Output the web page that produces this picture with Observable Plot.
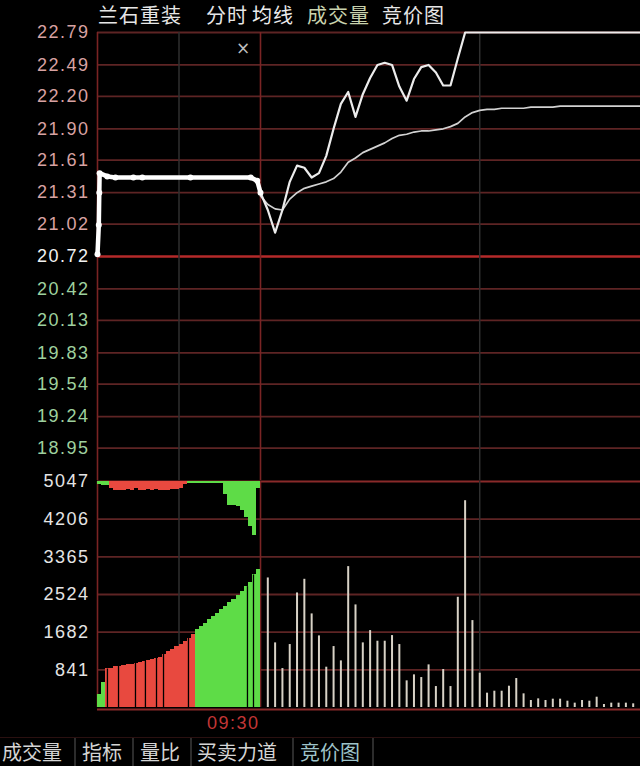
<!DOCTYPE html>
<html><head><meta charset="utf-8">
<script src="https://cdn.jsdelivr.net/npm/d3@7"></script>
<script src="https://cdn.jsdelivr.net/npm/@observablehq/plot@0.6"></script>
<style>
html,body{margin:0;padding:0;background:#000;}
#wrap{position:relative;width:640px;height:766px;background:#000;overflow:hidden;}
#wrap > div.svgbox{position:absolute;left:0;}
#wrap svg{overflow:visible;}
#wrap svg text{letter-spacing:1.5px;}
.ttl{position:absolute;top:3px;font-size:20px;line-height:24px;letter-spacing:1px;font-family:"Noto Sans CJK SC",sans-serif;white-space:nowrap;}
#tabs{position:absolute;left:0;top:737px;width:640px;height:29px;border-top:1px solid #2a1010;}
.tab{position:absolute;top:1px;font-size:20px;line-height:26px;font-family:"Noto Sans CJK SC",sans-serif;color:#d4d4d4;white-space:nowrap;}
.sep{position:absolute;top:0;width:0;height:29px;border-left:2px solid #2c2c2c;}
#xmark{position:absolute;left:236px;top:38px;color:#bdbdbd;font:17px "DejaVu Sans",sans-serif;}
</style>
</head><body>
<div id="wrap">
  <div id="priceBox" class="svgbox" style="top:0"></div>
  <div id="volBox" class="svgbox" style="top:470px"></div>
  <div id="titles"></div>
  <div id="xmark">×</div>
  <div id="tabs"></div>
</div>
<script>
// ---------- DATA ----------
const stockName = "兰石重装";
const headerLabels = ["分时", "均线", "成交量", "竞价图"];
const tabLabels = ["成交量", "指标", "量比", "买卖力道", "竞价图"];

const prevClose = 20.72;
const priceMin = 18.65, priceMax = 22.79;
const priceTicks = [22.79, 22.49, 22.20, 21.90, 21.61, 21.31, 21.02, 20.72, 20.42, 20.13, 19.83, 19.54, 19.24, 18.95];
const volTicks = [5047, 4206, 3365, 2524, 1682, 841];
const volMax = 5047;

// x positions: auction minutes since 09:15 (0..10), then 10 + minutes since 09:30
const sessionLines = [0, 10];      // 09:15 and 09:25/09:30 dividers
const dimLines = [5, 40];          // 09:20 and 10:00
const timeTicks = [10];
const timeTickLabels = ["09:30"];

// auction (call auction) price line
const auctionT = [0, 0.08, 0.11, 0.13, 0.6, 1.1, 2.2, 2.75, 5.7, 9.4, 9.8, 10];
const auctionP = [20.74, 21.01, 21.31, 21.49, 21.46, 21.45, 21.45, 21.45, 21.45, 21.45, 21.42, 21.31];

// auction volume bins (0.25 min each from 09:15)
const binT = [0,0.25,0.5,0.75,1,1.25,1.5,1.75,2,2.25,2.5,2.75,3,3.25,3.5,3.75,4,4.25,4.5,4.75,5,5.25,5.5,5.75,6,6.25,6.5,6.75,7,7.25,7.5,7.75,8,8.25,8.5,8.75,9,9.25,9.5,9.75];
const matchedVol = [300,560,860,880,905,920,935,950,970,990,1010,1035,1060,1080,1100,1125,1190,1240,1300,1360,1410,1480,1550,1620,1740,1800,1880,1960,2030,2100,2180,2250,2350,2420,2510,2600,2700,2800,2960,3080];
const matchedSide = ["g","g","r","r","r","r","r","r","r","r","r","r","r","r","r","r","r","r","r","r","r","r","r","r","g","g","g","g","g","g","g","g","g","g","g","g","g","g","g","g"];
const unmatchedVol = [60,80,90,160,200,210,190,170,200,150,190,210,170,200,180,200,210,190,180,170,150,60,40,40,40,40,40,40,40,40,40,300,535,535,560,640,800,1000,1200,160];
const unmatchedSide = ["g","g","g","r","r","r","r","r","r","r","r","r","r","r","r","r","r","r","r","r","r","r","g","g","g","g","g","g","g","g","g","g","g","g","g","g","g","g","g","g"];
const auctionGaps = [0.61, 1.29, 2.33, 2.94, 3.62, 4.05, 5.58, 9.2, 9.57];

// continuous trading, one value per minute from 09:30 (index 0 = 09:30)
const minutePrice = [21.31,21.15,20.94,21.15,21.41,21.56,21.54,21.45,21.49,21.65,21.90,22.13,22.24,22.01,22.22,22.37,22.49,22.51,22.49,22.29,22.16,22.36,22.47,22.49,22.42,22.30,22.30,22.55,22.79,22.79,22.79,22.79,22.79,22.79,22.79,22.79,22.79,22.79,22.79,22.79,22.79,22.79,22.79,22.79,22.79,22.79,22.79,22.79,22.79,22.79,22.79,22.79,22.79];
const minuteAvg = [21.28,21.20,21.16,21.15,21.25,21.31,21.35,21.37,21.39,21.41,21.44,21.50,21.59,21.63,21.68,21.71,21.74,21.77,21.81,21.84,21.85,21.87,21.88,21.88,21.89,21.90,21.92,21.95,22.01,22.05,22.07,22.08,22.08,22.09,22.09,22.09,22.09,22.10,22.10,22.10,22.10,22.11,22.11,22.11,22.11,22.11,22.11,22.11,22.11,22.11,22.11,22.11,22.11];
// volume bars for minutes 1..51 after 09:30
const minuteVol = [2893,1443,870,1406,2558,2863,2090,1599,900,1361,1041,3146,2291,1443,1718,1480,1480,1606,1406,595,729,669,952,468,848,468,2461,4618,1941,766,320,364,364,476,647,305,156,193,156,186,186,141,97,156,141,230,67,97,97,97,82];

// ---------- STYLE ----------
const RED = "#e8493f", GREEN = "#5edc47";
const gridColor = "#5e2424", frameColor = "#7a2424", prevColor = "#b52a2a", dimColor = "#2f2f2f";
const labelFont = "Liberation Sans";
const xScale = {type: "linear", domain: [0, 10, 62], range: [97, 260, 640], axis: null};

// ---------- PRICE PANEL ----------
const aIdx = d3.range(auctionT.length);
const mIdx = d3.range(minutePrice.length);
const priceChart = Plot.plot({
  width: 640, height: 482, margin: 0,
  style: {background: "transparent"},
  color: {type: "identity"},
  x: xScale,
  y: {type: "linear", domain: [priceMin, priceMax], range: [480, 32], axis: null},
  marks: [
    Plot.ruleY(priceTicks.filter(d => d !== prevClose), {y: d => d, x1: 0, x2: 62, stroke: gridColor, strokeWidth: 1.8}),
    Plot.ruleY([prevClose], {y: d => d, x1: 0, x2: 62, stroke: prevColor, strokeWidth: 2.6}),
    Plot.ruleX(dimLines, {x: d => d, y1: priceMin, y2: priceMax, stroke: dimColor, strokeWidth: 1.5}),
    Plot.ruleX(sessionLines, {x: d => d, y1: priceMin, y2: priceMax, stroke: frameColor, strokeWidth: 1.6}),
    Plot.text(priceTicks, {x: 0, y: d => d, text: d => d.toFixed(2), textAnchor: "end", dx: -8,
      fill: d => d > prevClose ? "#d8a2a2" : d === prevClose ? "#f2f2f2" : "#9ed09e",
      fontSize: 18, fontFamily: labelFont}),
    Plot.line(mIdx, {x: i => 10 + i, y: i => minuteAvg[i], stroke: "#d2d2d2", strokeWidth: 1.7}),
    Plot.line(mIdx, {x: i => 10 + i, y: i => minutePrice[i], stroke: "#ececec", strokeWidth: 2.2}),
    Plot.line(aIdx, {x: i => auctionT[i], y: i => auctionP[i], stroke: "#ffffff", strokeWidth: 4.5, strokeLinejoin: "round"}),
    Plot.dot(aIdx, {x: i => auctionT[i], y: i => auctionP[i], r: 3, fill: "#ffffff"})
  ]
});
document.getElementById("priceBox").appendChild(priceChart);

// ---------- VOLUME PANEL ----------
const bIdx = d3.range(binT.length);
const vIdx = d3.range(minuteVol.length);
const volChart = Plot.plot({
  width: 640, height: 267, margin: 0,
  style: {background: "transparent"},
  color: {type: "identity"},
  x: xScale,
  y: {type: "linear", domain: [0, volMax], range: [237, 11], axis: null},
  marks: [
    Plot.ruleY(volTicks.filter(d => d !== volMax), {y: d => d, x1: 0, x2: 62, stroke: gridColor, strokeWidth: 1.8}),
    Plot.ruleY([volMax], {y: d => d, x1: 0, x2: 62, stroke: "#8a2a2a", strokeWidth: 2.2}),
    Plot.ruleY([0], {y: d => d, x1: 0, x2: 62, dy: 2, stroke: "#8a2a2a", strokeWidth: 2}),
    Plot.ruleX(dimLines, {x: d => d, y1: 0, y2: volMax, stroke: dimColor, strokeWidth: 1.5}),
    Plot.ruleX(sessionLines, {x: d => d, y1: 0, y2: volMax, stroke: frameColor, strokeWidth: 1.6}),
    Plot.text(volTicks, {x: 0, y: d => d, text: d => String(d), textAnchor: "end", dx: -8,
      fill: "#e4e4e4", fontSize: 18, fontFamily: labelFont}),
    Plot.rect(bIdx, {x1: i => binT[i], x2: i => binT[i] + 0.25, y1: 0, y2: i => matchedVol[i],
      fill: i => matchedSide[i] === "r" ? RED : GREEN, shapeRendering: "crispEdges"}),
    Plot.rect(bIdx, {x1: i => binT[i], x2: i => binT[i] + 0.25, y1: i => volMax - unmatchedVol[i], y2: volMax,
      fill: i => unmatchedSide[i] === "r" ? RED : GREEN, shapeRendering: "crispEdges"}),
    Plot.ruleX(auctionGaps, {x: d => d, y1: 0, y2: d => matchedVol[Math.floor(d / 0.25)], stroke: "#000", strokeWidth: 1.3}),
    Plot.ruleX(vIdx, {x: i => 10 + i + 1, y1: 0, y2: i => minuteVol[i], stroke: "#d8d2c6", strokeWidth: 2}),
    Plot.text(timeTicks, {x: d => d, y: 0, text: (d, i) => timeTickLabels[i], textAnchor: "end", dx: -1, dy: 16,
      fill: "#c23636", fontSize: 18, fontFamily: labelFont})
  ]
});
document.getElementById("volBox").appendChild(volChart);

// ---------- HEADER / TABS ----------
const titles = document.getElementById("titles");
const headerItems = [
  {text: stockName, left: 98, color: "#e6e6e6"},
  {text: headerLabels[0], left: 206, color: "#e6e6e6"},
  {text: headerLabels[1], left: 252, color: "#ececec"},
  {text: headerLabels[2], left: 307, color: "#c9d3ae"},
  {text: headerLabels[3], left: 382, color: "#e6e6e6"}
];
headerItems.forEach(h => {
  const s = document.createElement("span");
  s.className = "ttl"; s.textContent = h.text; s.style.left = h.left + "px"; s.style.color = h.color;
  titles.appendChild(s);
});
const tabs = document.getElementById("tabs");
const tabLefts = [2, 82, 140, 197, 300];
const sepLefts = [74, 132, 190, 292, 372];
tabLabels.forEach((t, i) => {
  const s = document.createElement("span");
  s.className = "tab"; s.textContent = t; s.style.left = tabLefts[i] + "px";
  if (i === tabLabels.length - 1) s.style.color = "#9ec3c9";
  tabs.appendChild(s);
  const sp = document.createElement("span");
  sp.className = "sep"; sp.style.left = sepLefts[i] + "px";
  tabs.appendChild(sp);
});
</script>
</body></html>
